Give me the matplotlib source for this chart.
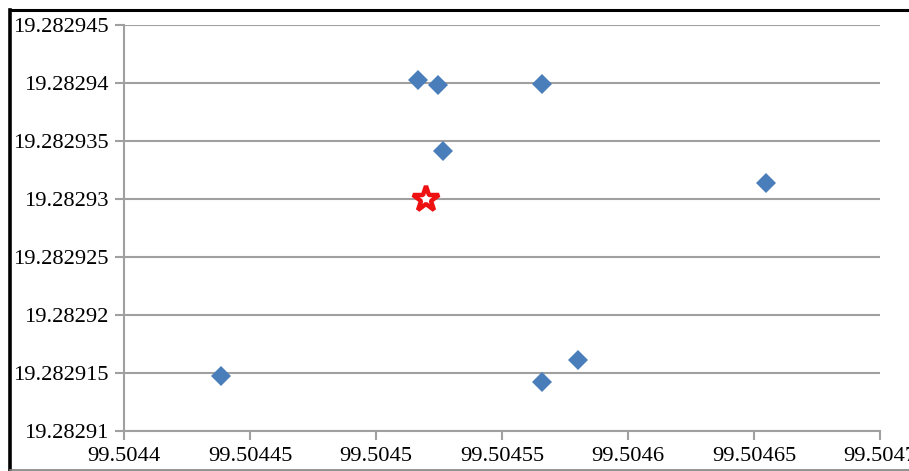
import matplotlib
matplotlib.use("Agg")
import matplotlib.pyplot as plt
from matplotlib.lines import Line2D
from matplotlib.ticker import FixedLocator, FixedFormatter

# measured points (longitude, latitude)
lon = [99.5045167, 99.5045247, 99.5045660, 99.5045264, 99.5046548,
       99.5044384, 99.5045657, 99.5045803]
lat = [19.2829403, 19.2829398, 19.2829399, 19.2829341, 19.2829314,
       19.2829147, 19.2829142, 19.2829161]
# reference point
ref_lon = [99.5045199]
ref_lat = [19.2829300]

xticks = [99.5044, 99.50445, 99.5045, 99.50455, 99.5046, 99.50465, 99.5047]
xlabels = ["99.5044", "99.50445", "99.5045", "99.50455", "99.5046", "99.50465", "99.5047"]
yticks = [19.28291, 19.282915, 19.28292, 19.282925, 19.28293, 19.282935, 19.28294, 19.282945]
ylabels = ["19.28291", "19.282915", "19.28292", "19.282925", "19.28293", "19.282935", "19.28294", "19.282945"]

plt.rcParams['font.family'] = ['Liberation Serif', 'DejaVu Serif']

W, H = 909, 471
fig = plt.figure(figsize=(W / 100, H / 100), dpi=100)
ax = fig.add_axes([124 / W, 1 - 431 / H, (880 - 124) / W, (431 - 25) / H])

grey = "#a0a0a0"
ax.plot(lon, lat, linestyle="none", marker="D", ms=10, mew=0, color="#4a7ebb", zorder=3)
ax.plot(ref_lon, ref_lat, linestyle="none", marker="*", ms=19, mfc="white",
        mec="#ee1111", mew=3.2, zorder=4)

ax.set_xlim(xticks[0], xticks[-1])
ax.set_ylim(yticks[0], yticks[-1])
ax.xaxis.set_major_locator(FixedLocator(xticks))
ax.xaxis.set_major_formatter(FixedFormatter(xlabels))
ax.yaxis.set_major_locator(FixedLocator(yticks))
ax.yaxis.set_major_formatter(FixedFormatter(ylabels))

ax.grid(axis="y", color=grey, linewidth=1.5)
ax.set_axisbelow(True)
for s in ["top", "right"]:
    ax.spines[s].set_visible(False)
for s in ["left", "bottom"]:
    ax.spines[s].set_color(grey)
    ax.spines[s].set_linewidth(1.5)
ax.tick_params(axis="both", which="major", direction="out", length=6.5, width=1.5,
               color=grey, labelsize=16.2, labelcolor="black")
ax.tick_params(axis="x", pad=5)
ax.tick_params(axis="y", pad=4.5)

# outer frame of the original figure
def fx(p):
    return p / W

def fy(p):
    return 1 - p / H

fig.add_artist(Line2D([fx(10), fx(909)], [fy(10), fy(10)], color="black", lw=2.2,
                      transform=fig.transFigure))
fig.add_artist(Line2D([fx(10), fx(10)], [fy(10), fy(471)], color="black", lw=2.6,
                      transform=fig.transFigure))
fig.add_artist(Line2D([fx(10), fx(909)], [fy(470), fy(470)], color="#808080", lw=1.2,
                      transform=fig.transFigure))

fig.savefig("out.png", dpi=100)
